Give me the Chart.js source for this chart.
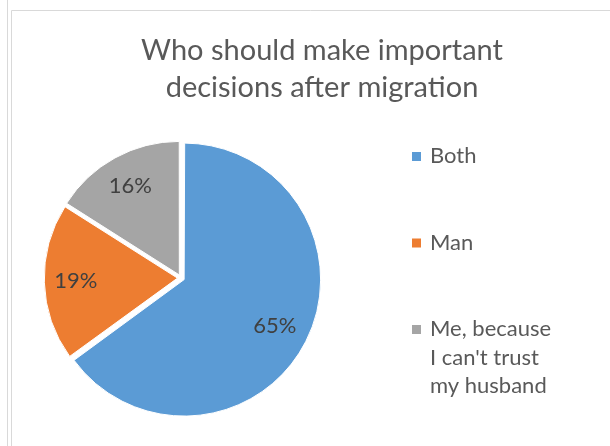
<!DOCTYPE html>
<html>
<head>
<meta charset="utf-8">
<script src="https://cdn.jsdelivr.net/npm/chart.js@4/dist/chart.umd.min.js"></script>
<style>
html,body{margin:0;padding:0;background:#fff;}
#wrap{width:610px;height:446px;position:relative;}
</style>
</head>
<body>
<div id="wrap"><canvas id="c" width="610" height="446"></canvas></div>
<script>
const titleLines = ["Who should make important", "decisions after migration"];
const categories = ["Both", "Man", ["Me, because", "I can't trust", "my husband"]];
const values = [65, 19, 16];
const colors = ["#5B9BD5", "#ED7D31", "#A5A5A5"];

const FONT = "Lato, 'Open Sans', sans-serif";

const decor = {
  id: 'decor',
  beforeDraw(chart) {
    const ctx = chart.ctx;
    ctx.save();
    ctx.strokeStyle = '#D9D9D9';
    ctx.lineWidth = 1;
    ctx.beginPath();
    ctx.moveTo(7.5, 0); ctx.lineTo(7.5, 446);
    ctx.moveTo(11.5, 10.5); ctx.lineTo(11.5, 446);
    ctx.moveTo(11.5, 10.5); ctx.lineTo(610, 10.5);
    ctx.stroke();
    ctx.restore();
  },
  afterDraw(chart) {
    const ctx = chart.ctx;
    ctx.save();
    // title
    ctx.fillStyle = '#595959';
    ctx.font = "29px " + FONT;
    ctx.textAlign = 'center';
    ctx.textBaseline = 'alphabetic';
    ctx.fillText(titleLines[0], 322, 60);
    ctx.fillText(titleLines[1], 322, 97);
    // legend
    ctx.textAlign = 'left';
    ctx.font = "22px " + FONT;
    const labels = chart.data.labels;
    const bg = chart.data.datasets[0].backgroundColor;
    labels.forEach((lab, i) => {
      const top = 152 + i * 86.5;
      ctx.fillStyle = bg[i];
      ctx.fillRect(412, top, 9, 9);
      ctx.fillStyle = '#595959';
      const lines = Array.isArray(lab) ? lab : [lab];
      lines.forEach((ln, j) => ctx.fillText(ln, 430, top + 11 + j * 28.5));
    });
    // data labels
    const meta = chart.getDatasetMeta(0);
    const total = values.reduce((a, b) => a + b, 0);
    ctx.fillStyle = '#404040';
    ctx.font = "22px " + FONT;
    ctx.textAlign = 'center';
    ctx.textBaseline = 'middle';
    meta.data.forEach((arc, i) => {
      const p = arc.getProps(['x', 'y', 'startAngle', 'endAngle', 'outerRadius']);
      const half = (p.startAngle + p.endAngle) / 2;
      const off = (arc.options.offset || 0) / 4;
      const r = 0.765 * p.outerRadius + off;
      const x = p.x + Math.cos(half) * r;
      const y = p.y + Math.sin(half) * r;
      ctx.fillText(Math.round(values[i] / total * 100) + '%', x, y);
    });
    ctx.restore();
  }
};

new Chart(document.getElementById('c'), {
  type: 'pie',
  data: {
    labels: categories,
    datasets: [{
      data: values,
      backgroundColor: colors,
      borderColor: '#FFFFFF',
      borderWidth: 1,
      offset: 14,
      hoverOffset: 14
    }]
  },
  options: {
    responsive: false,
    animation: false,
    radius: 133,
    layout: { padding: { left: 30, right: 278, top: 127, bottom: 17 } },
    plugins: {
      legend: { display: false },
      title: { display: false },
      tooltip: { enabled: false }
    }
  },
  plugins: [decor]
});
</script>
</body>
</html>
